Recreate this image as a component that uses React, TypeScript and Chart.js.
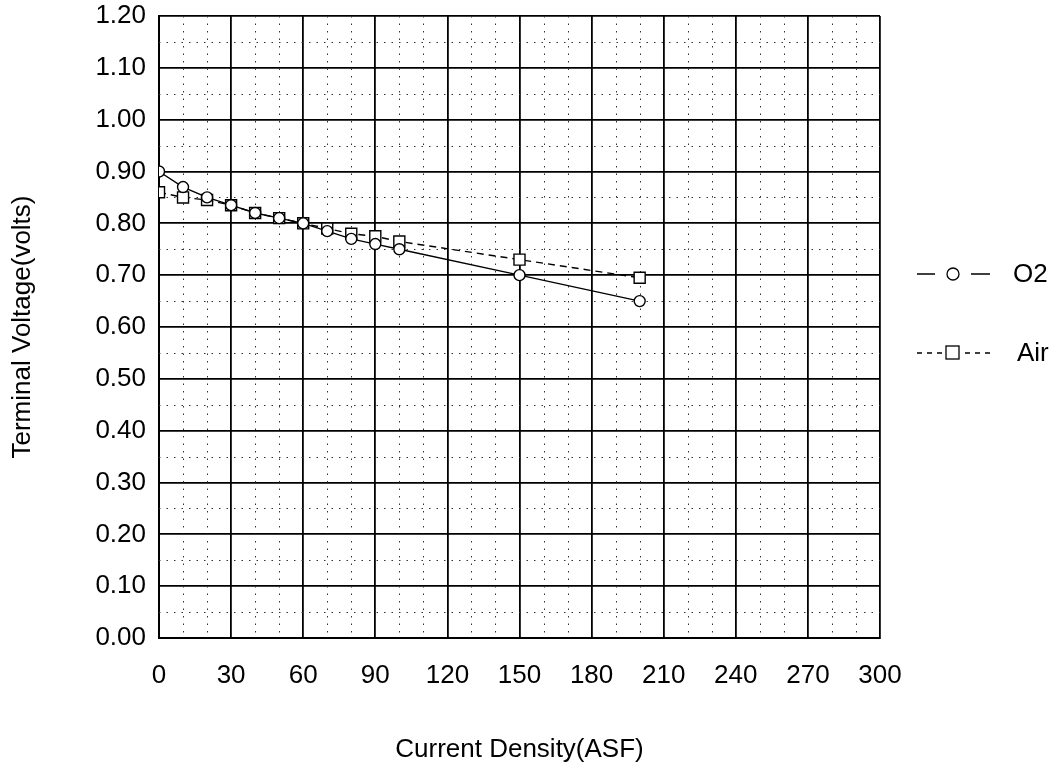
import React, { useEffect, useRef } from "react";
import { Chart, registerables } from "chart.js";

Chart.register(...registerables);

const currentDensity = [0, 10, 20, 30, 40, 50, 60, 70, 80, 90, 100, 150, 200];
const o2Voltage = [0.9, 0.87, 0.85, 0.835, 0.82, 0.81, 0.8, 0.785, 0.77, 0.76, 0.75, 0.7, 0.65];
const airVoltage = [0.86, 0.85, 0.845, 0.835, 0.82, 0.81, 0.8, 0.79, 0.78, 0.775, 0.765, 0.73, 0.695];
const seriesNames = ["O2", "Air"];
const xTitle = "Current Density(ASF)";
const yTitle = "Terminal Voltage(volts)";

const FONT = "'Liberation Sans', Arial, sans-serif";

const minorGrid = {
  id: "minorGrid",
  beforeDatasetsDraw(chart: any) {
    const { ctx, chartArea, scales } = chart;
    const xs = scales.x;
    const ys = scales.y;
    ctx.save();
    ctx.strokeStyle = "#333";
    ctx.lineWidth = 1;
    ctx.setLineDash([1.5, 6]);
    for (let v = 0; v <= 300; v += 10) {
      if (v % 30 === 0) continue;
      const px = Math.round(xs.getPixelForValue(v)) + 0.5;
      ctx.beginPath();
      ctx.moveTo(px, chartArea.top);
      ctx.lineTo(px, chartArea.bottom);
      ctx.stroke();
    }
    for (let i = 0; i < 12; i++) {
      const v = i * 0.1 + 0.05;
      const py = Math.round(ys.getPixelForValue(v)) + 0.5;
      ctx.beginPath();
      ctx.moveTo(chartArea.left, py);
      ctx.lineTo(chartArea.right, py);
      ctx.stroke();
    }
    ctx.restore();
  },
};

const customLegend = {
  id: "customLegend",
  afterDraw(chart: any) {
    const { ctx } = chart;
    ctx.save();
    ctx.strokeStyle = "#000";
    ctx.fillStyle = "#000";
    ctx.lineWidth = 1.3;
    ctx.font = `26px ${FONT}`;
    ctx.textBaseline = "middle";
    ctx.textAlign = "left";
    // O2
    let y = 274;
    ctx.setLineDash([]);
    ctx.beginPath();
    ctx.moveTo(917, y); ctx.lineTo(935, y);
    ctx.moveTo(971, y); ctx.lineTo(990, y);
    ctx.stroke();
    ctx.beginPath();
    ctx.arc(953, y, 6, 0, Math.PI * 2);
    ctx.stroke();
    ctx.fillText(seriesNames[0], 1013, y + 1);
    // Air
    y = 353;
    ctx.setLineDash([5, 5]);
    ctx.beginPath();
    ctx.moveTo(917, y); ctx.lineTo(942, y);
    ctx.moveTo(965, y); ctx.lineTo(990, y);
    ctx.stroke();
    ctx.setLineDash([]);
    ctx.strokeRect(946, y - 7, 13, 13);
    ctx.fillText(seriesNames[1], 1017, y + 1);
    ctx.restore();
  },
};

export default function App() {
  const ref = useRef<HTMLCanvasElement>(null);
  useEffect(() => {
    if (!ref.current) return;
    const chart = new Chart(ref.current, {
      type: "line",
      data: {
        datasets: [
          {
            label: seriesNames[0],
            data: currentDensity.map((x, i) => ({ x, y: o2Voltage[i] })),
            borderColor: "#000",
            borderWidth: 1.4,
            pointStyle: "circle",
            pointRadius: 5.5,
            pointBorderWidth: 1.4,
            pointBackgroundColor: "#fff",
            pointBorderColor: "#000",
            tension: 0,
          },
          {
            label: seriesNames[1],
            data: currentDensity.map((x, i) => ({ x, y: airVoltage[i] })),
            borderColor: "#000",
            borderWidth: 1.4,
            borderDash: [7, 5],
            pointStyle: "rect",
            pointRadius: 7.8,
            pointBorderWidth: 1.4,
            pointBackgroundColor: "#fff",
            pointBorderColor: "#000",
            tension: 0,
          },
        ],
      },
      options: {
        animation: false,
        responsive: false,
        layout: { padding: { left: 0, right: 176, top: 16, bottom: 0 } },
        plugins: { legend: { display: false }, tooltip: { enabled: false } },
        scales: {
          x: {
            type: "linear",
            min: 0,
            max: 300,
            afterFit(scale: any) {
              scale.height = 131;
              scale.paddingLeft = 0;
              scale.paddingRight = 0;
            },
            ticks: {
              stepSize: 30,
              color: "#000",
              padding: 22,
              font: { family: FONT, size: 26 },
            },
            grid: { color: "#000", lineWidth: 1.8, drawTicks: false },
            border: { color: "#000", width: 2 },
            title: {
              display: true,
              text: xTitle,
              color: "#000",
              font: { family: FONT, size: 26 },
              padding: { top: 0, bottom: 4 },
            },
          },
          y: {
            type: "linear",
            min: 0,
            max: 1.2,
            afterFit(scale: any) {
              scale.width = 159;
              scale.paddingTop = 0;
              scale.paddingBottom = 0;
            },
            ticks: {
              stepSize: 0.1,
              color: "#000",
              padding: 13,
              font: { family: FONT, size: 26 },
              callback: (v: any) => Number(v).toFixed(2),
            },
            grid: { color: "#000", lineWidth: 1.8, drawTicks: false },
            border: { color: "#000", width: 2 },
            title: {
              display: true,
              text: yTitle,
              color: "#000",
              font: { family: FONT, size: 26 },
              padding: { top: 7, bottom: 0 },
            },
          },
        },
      },
      plugins: [minorGrid, customLegend],
    });
    return () => chart.destroy();
  }, []);
  return (
    <div style={{ position: "absolute", left: 0, top: 0, width: 1056, height: 769, background: "#fff" }}>
      <canvas ref={ref} width={1056} height={769} />
    </div>
  );
}
